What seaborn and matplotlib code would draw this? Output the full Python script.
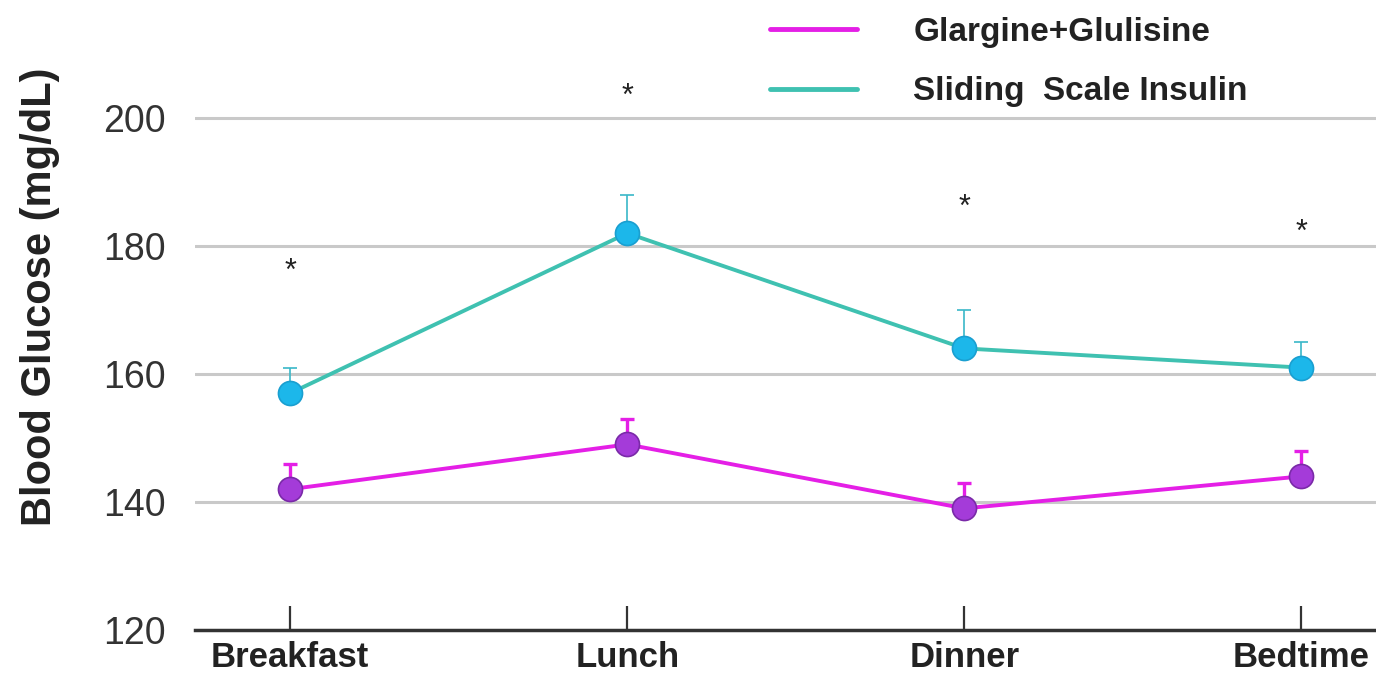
import numpy as np
import pandas as pd
import matplotlib
matplotlib.use("Agg")
import matplotlib.pyplot as plt
import seaborn as sns

# ---- data ----
meals = ["Breakfast", "Lunch", "Dinner", "Bedtime"]
series_names = ["Glargine+Glulisine", "Sliding  Scale Insulin"]
glargine_mean = [142, 149, 139, 144]
glargine_err = [4, 4, 4, 4]
ssi_mean = [157, 182, 164, 161]
ssi_err = [4, 6, 6, 4]
star_y = [176, 203.3, 186, 182]
y_ticks = [120, 140, 160, 180, 200]

sns.set_theme(style="white")
plt.rcParams["font.family"] = ["Liberation Sans", "DejaVu Sans"]

df = pd.DataFrame({
    "meal": list(range(len(meals))) * 2,
    "glucose": glargine_mean + ssi_mean,
    "group": [series_names[0]] * len(meals) + [series_names[1]] * len(meals),
})

line_colors = {series_names[0]: "#e41fe6", series_names[1]: "#3fc1b1"}
marker_colors = {series_names[0]: "#a43bd9", series_names[1]: "#1cb7ea"}
marker_edges = {series_names[0]: "#7a2aa8", series_names[1]: "#1a9fd0"}

fig = plt.figure(figsize=(13.76, 6.8), dpi=100)
ax = fig.add_axes([195 / 1376, 1 - 630 / 680, 1 - 195 / 1376, (630 - 22) / 680])

sns.lineplot(data=df, x="meal", y="glucose", hue="group", palette=line_colors,
             linewidth=2.8, ax=ax, legend=True, zorder=3)

# error bars (upper only)
x = np.arange(len(meals))
for name, m, e in [(series_names[0], glargine_mean, glargine_err),
                   (series_names[1], ssi_mean, ssi_err)]:
    lw = 2.4 if name == series_names[0] else 1.2
    ax.errorbar(x, m, yerr=[np.zeros(len(m)), e], fmt="none",
                ecolor=line_colors[name] if name == series_names[0] else "#39b8c8",
                elinewidth=lw, capsize=5, capthick=lw, zorder=2)

for name in series_names:
    sub = df[df["group"] == name]
    sns.scatterplot(data=sub, x="meal", y="glucose", color=marker_colors[name],
                    edgecolor=marker_edges[name], linewidth=1.2, s=300,
                    ax=ax, legend=False, zorder=4)

for xi, sy in zip(x, star_y):
    ax.text(xi, sy, "*", ha="center", va="center", fontsize=22, color="#222222")

ax.set_xlim((205 - 287) / 338 - 0.04, (1376 - 287) / 338)
ax.set_ylim(120, 215)
ax.set_yticks(y_ticks)
ax.set_yticklabels([str(t) for t in y_ticks], fontsize=27, color="#333333")
ax.set_xticks(x)
ax.set_xticklabels(meals, fontsize=25, fontweight="bold", color="#222222")
ax.tick_params(axis="y", left=False, length=0, pad=21)
ax.tick_params(axis="x", bottom=True, direction="in", length=17, width=1.6,
               color="#333333", pad=8)

for yt in y_ticks[1:]:
    ax.axhline(yt, color="#c9c9c9", linewidth=2.2, zorder=1)

for s in ["top", "right", "left"]:
    ax.spines[s].set_visible(False)
ax.spines["bottom"].set_color("#333333")
ax.spines["bottom"].set_linewidth(2.5)

ax.set_xlabel("")
ax.set_ylabel("Blood Glucose (mg/dL)", fontsize=30, fontweight="bold",
              color="#222222")
ax.yaxis.set_label_coords(-0.114, 0.548)

handles, labels = ax.get_legend_handles_labels()
leg = ax.legend(handles, labels, loc="upper left", bbox_to_anchor=(770 / 1376, 0.975),
                bbox_transform=fig.transFigure, frameon=False, fontsize=24,
                handlelength=2.6, handletextpad=1.7, labelspacing=0.85,
                borderpad=0, borderaxespad=0)
for t in leg.get_texts():
    t.set_fontweight("bold")
    t.set_color("#222222")
for l in leg.get_lines():
    l.set_linewidth(3.5)

fig.savefig("out.png", dpi=100)
